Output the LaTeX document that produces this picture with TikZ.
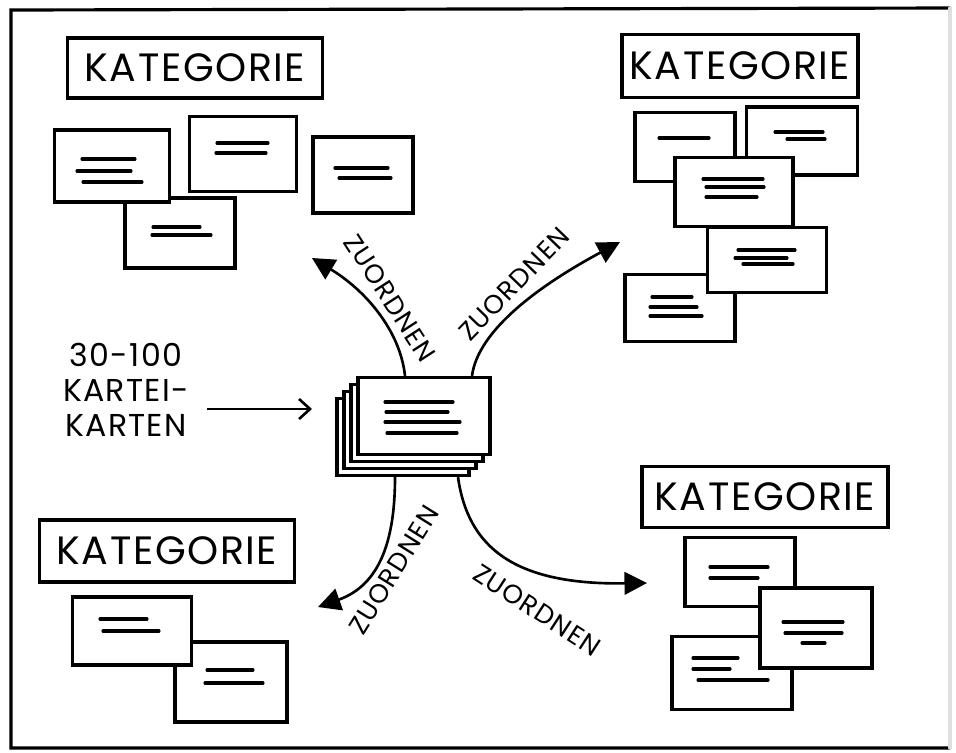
\documentclass[tikz,border=0pt]{standalone}
\usepackage{fontspec}
\setmainfont{Poppins}
\newfontfamily\hand[LetterSpace=4]{Poppins}
\usetikzlibrary{arrows.meta,calc}

% Striche auf einer Karte: Knoten, Liste dx1/dx2/dy
\newcommand{\zeilen}[2]{%
  \foreach \a/\b/\c in {#2}
    \draw[strich] ($(#1)+(\a,\c)$) -- ($(#1)+(\b,\c)$);}

\begin{document}
\begin{tikzpicture}[
  x=0.02cm, y=-0.02cm,
  rahmen/.style={line width=1.8pt, line cap=round},
  karte/.style 2 args={draw, fill=white, line width=1.9pt, inner sep=0pt,
                       minimum width=#1*0.02cm, minimum height=#2*0.02cm},
  kat/.style 2 args={karte={#1}{#2}, font=\hand\fontsize{22.5}{26}\selectfont},
  strich/.style={line width=1.8pt, line cap=round},
  pfeil/.style={line width=1.5pt, -{Triangle[length=0.45cm, width=0.45cm]}},
  zu/.style={font=\hand\fontsize{15}{18}\selectfont, inner sep=0pt},
  anz/.style={font=\hand\fontsize{18}{20}\selectfont, align=center, inner sep=0pt}
]
  \useasboundingbox (0,0) rectangle (956,752);

  % Rahmen
  \draw[rahmen] (950,748) -- (11,748) -- (11,10) -- (950,8);
  \draw[rahmen, gray!25] (950,8) -- (950,748);

  % Kategorien
  \node[kat={255}{60}] (katol) at (195,68)  {KATEGORIE};
  \node[kat={236}{63}] (kator) at (740,66)  {KATEGORIE};
  \node[kat={255}{62}] (katul) at (167,551) {KATEGORIE};
  \node[kat={246}{61}] (katur) at (765,497) {KATEGORIE};

  % Karten oben links
  \node[karte={110}{70}] (ol4) at (180,233) {};
  \zeilen{ol4}{-27/20/-6, -28/31/2}
  \node[karte={115}{72}] (ol1) at (112,166) {};
  \zeilen{ol1}{-30/23/-7, -35/19/5, -29/30/16}
  \node[karte={107}{75}] (ol2) at (243,154) {};
  \zeilen{ol2}{-26/25/-11, -27/23/-1}
  \node[karte={100}{76}] (ol3) at (363,175) {};
  \zeilen{ol3}{-28/25/-7, -24/28/3}

  % Karten oben rechts
  \node[karte={100}{69}] (or1) at (685,147) {};
  \zeilen{or1}{-26/24/-9}
  \node[karte={111}{68}] (or2) at (802,141) {};
  \zeilen{or2}{-27/21/-9, -15/23/-2}
  \node[karte={118}{69}] (or3) at (734,192) {};
  \zeilen{or3}{-31/29/-13, -28/30/-5, -28/23/5}
  \node[karte={110}{67}] (or5) at (680,308) {};
  \zeilen{or5}{-28/12/-11, -30/17/-1, -30/22/8}
  \node[karte={119}{65}] (or4) at (767,260) {};
  \zeilen{or4}{-29/28/-10, -32/20/-2, -24/26/4}

  % Karten unten links
  \node[karte={112}{80}] (ul2) at (231,682) {};
  \zeilen{ul2}{-24/22/-12, -26/32/1}
  \node[karte={119}{68}] (ul1) at (132,631) {};
  \zeilen{ul1}{-32/15/-12, -29/27/0}

  % Karten unten rechts
  \node[karte={110}{69}] (ur1) at (740,572) {};
  \zeilen{ur1}{-30/28/-5, -30/18/6}
  \node[karte={120}{73}] (ur3) at (732,673) {};
  \zeilen{ur3}{-39/6/-15, -39/-2/-4, -34/36/7}
  \node[karte={112}{80}] (ur2) at (816,628) {};
  \zeilen{ur2}{-33/27/-6, -31/26/5, -14/9/15}

  % Stapel in der Mitte
  \foreach \i in {3,2,1}
    \node[karte={132}{77}] (st\i) at (424-7*\i,416+7*\i) {};
  \node[karte={132}{77}] (st0) at (424,416) {};
  \zeilen{st0}{-39/29/-14, -38/24/-4, -39/36/6, -37/33/17}

  % Anzahl
  \node[anz] (anzahl) at (126,390) {30-100\\[0pt]KARTEI-\\[0pt]KARTEN};
  \coordinate (pa) at (207,409);
  \coordinate (pb) at (312,409);
  \draw[line width=1.5pt, -{Straight Barb[length=2.2mm, width=4mm]}] (pa) -- (pb);

  % Zuordnen
  \coordinate (zol) at (312,258);
  \coordinate (zor) at (620,242);
  \coordinate (zul) at (318,607);
  \coordinate (zur) at (647,583);
  \draw[pfeil] ($(st0.north)+(-19,0)$) .. controls (400,330) and (365,290) .. (zol);
  \draw[pfeil] ($(st0.north)+(48,0)$) .. controls (478,330) and (540,285) .. (zor);
  \draw[pfeil] ($(st3.south)+(-8,0)$) .. controls (395,540) and (380,585) .. (zul);
  \draw[pfeil] ($(st3.south)+(55,0)$) .. controls (468,548) and (515,585) .. (zur);

  \node[zu, rotate=-57] (lol) at (390,298) {ZUORDNEN};
  \node[zu, rotate=46]  (lor) at (514,284) {ZUORDNEN};
  \node[zu, rotate=58]  (lul) at (394,570) {ZUORDNEN};
  \node[zu, rotate=-33] (lur) at (537,610) {ZUORDNEN};
\end{tikzpicture}
\end{document}
